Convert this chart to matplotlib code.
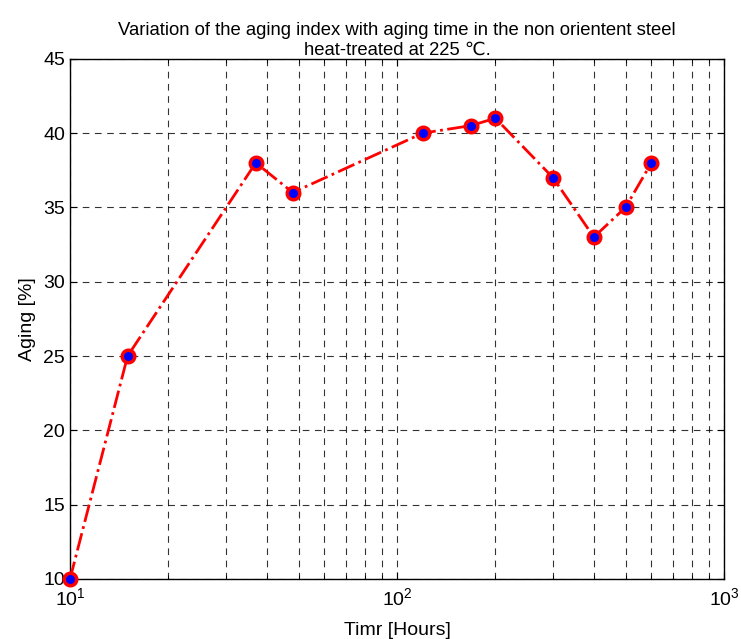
import matplotlib

matplotlib.use("Agg")
import matplotlib.pyplot as plt
from matplotlib.ticker import LogLocator, NullFormatter

plt.rcParams["font.family"] = ["Liberation Sans", "DejaVu Sans"]
plt.rcParams["mathtext.fontset"] = "custom"
plt.rcParams["mathtext.rm"] = "Liberation Sans"
plt.rcParams["mathtext.it"] = "Liberation Sans"

# aging time [hours] and aging index [%]
hours = [10, 15, 37, 48, 120, 168, 200, 300, 400, 500, 600]
aging = [10, 25, 38, 36, 40, 40.5, 41, 37, 33, 35, 38]

fig = plt.figure(figsize=(7.41, 6.39), dpi=100)
ax = fig.add_axes([0.0945, 0.094, 0.8825, 0.814])

ax.semilogx(hours, aging, linestyle="-.", color="red", linewidth=2,
            marker="o", markersize=9, markerfacecolor="blue",
            markeredgecolor="red", markeredgewidth=2.5, clip_on=False, zorder=5)

ax.set_xlim(10, 1000)
ax.set_ylim(10, 45)
ax.set_yticks(range(10, 46, 5))
ax.xaxis.set_major_locator(LogLocator(base=10))
ax.xaxis.set_minor_locator(LogLocator(base=10, subs=range(2, 10)))
ax.xaxis.set_minor_formatter(NullFormatter())

ax.grid(True, which="major", color="black", linestyle=(0, (6, 5)), linewidth=0.8, alpha=0.8)
ax.grid(True, which="minor", axis="x", color="black", linestyle=(0, (6, 5)), linewidth=0.8, alpha=0.8)
ax.tick_params(which="both", direction="in", top=True, right=True, labelsize=14)
ax.tick_params(which="major", length=5)
ax.tick_params(which="minor", length=3)
ax.tick_params(axis="x", pad=6)
for s in ax.spines.values():
    s.set_linewidth(1.0)

ax.set_xlabel("Timr [Hours]", fontsize=14, labelpad=9)
ax.set_ylabel("Aging [%]", fontsize=14, labelpad=5)
ax.set_title("Variation of the aging index with aging time in the non orientent steel\n"
             "heat-treated at 225 \u2103.", fontsize=13.3, pad=3)

fig.savefig("out.png", dpi=100)
